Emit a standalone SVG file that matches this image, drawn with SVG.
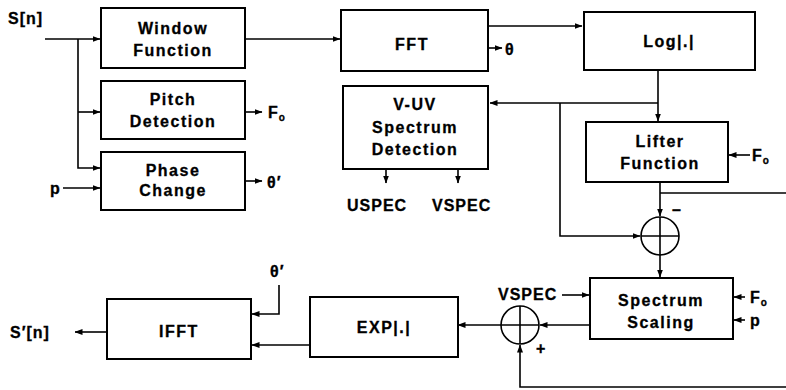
<svg xmlns="http://www.w3.org/2000/svg" width="786" height="390" viewBox="0 0 786 390">
<style>
.b{fill:#fff;stroke:#000;stroke-width:2}
.t{font-family:"Liberation Sans",Arial,sans-serif;font-weight:bold;font-size:16px;letter-spacing:1.5px;fill:#000;text-anchor:middle;stroke:#000;stroke-width:0.3}
.l{font-family:"Liberation Sans",Arial,sans-serif;font-weight:bold;font-size:16px;letter-spacing:1px;fill:#000;stroke:#000;stroke-width:0.3}
.c{fill:none;stroke:#000;stroke-width:1.6}
.s{fill:#fff;stroke:#000;stroke-width:1.6}
</style>
<defs>
<marker id="a" viewBox="0 0 8 8" refX="7.5" refY="4" markerWidth="8" markerHeight="8" markerUnits="userSpaceOnUse" orient="auto">
<path d="M0,1 L8,4 L0,7 Z" fill="#000"/>
</marker>
</defs>
<rect width="786" height="390" fill="#fff"/>
<g id="connectors">
<path class="c" d="M45,39 H100" marker-end="url(#a)"/>
<path class="c" d="M78,39 V168 H100" marker-end="url(#a)"/>
<path class="c" d="M78,112 H100" marker-end="url(#a)"/>
<path class="c" d="M63,188 H100" marker-end="url(#a)"/>
<path class="c" d="M245,39 H340" marker-end="url(#a)"/>
<path class="c" d="M245,112 H262" marker-end="url(#a)"/>
<path class="c" d="M245,181 H262" marker-end="url(#a)"/>
<path class="c" d="M488,26 H582" marker-end="url(#a)"/>
<path class="c" d="M488,48 H502" marker-end="url(#a)"/>
<path class="c" d="M386,169 V183" marker-end="url(#a)"/>
<path class="c" d="M458,169 V183" marker-end="url(#a)"/>
<path class="c" d="M658,70 V121" marker-end="url(#a)"/>
<path class="c" d="M658,103 H490" marker-end="url(#a)"/>
<path class="c" d="M560,103 V236 H640" marker-end="url(#a)"/>
<path class="c" d="M750,155 H729" marker-end="url(#a)"/>
<path class="c" d="M660,182 V216" marker-end="url(#a)"/>
<path class="c" d="M660,193 H786"/>
<path class="c" d="M660,255 V277" marker-end="url(#a)"/>
<path class="c" d="M745,297 H734" marker-end="url(#a)"/>
<path class="c" d="M745,320 H734" marker-end="url(#a)"/>
<path class="c" d="M562,295 H589" marker-end="url(#a)"/>
<path class="c" d="M590,325 H540" marker-end="url(#a)"/>
<path class="c" d="M501,325 H458" marker-end="url(#a)"/>
<path class="c" d="M786,387 H520 V345" marker-end="url(#a)"/>
<path class="c" d="M310,345 H252" marker-end="url(#a)"/>
<path class="c" d="M279,285 V314 H252" marker-end="url(#a)"/>
<path class="c" d="M107,332 H75" marker-end="url(#a)"/>
</g>
<g id="window">
<rect class="b" x="101" y="8" width="144" height="60"/>
<text class="t" x="173" y="34">Window</text>
<text class="t" x="173" y="56">Function</text>
</g>
<g id="pitch">
<rect class="b" x="101" y="81" width="144" height="58"/>
<text class="t" x="173" y="105">Pitch</text>
<text class="t" x="173" y="127">Detection</text>
</g>
<g id="phase">
<rect class="b" x="101" y="152" width="144" height="58"/>
<text class="t" x="173" y="176">Phase</text>
<text class="t" x="173" y="196">Change</text>
</g>
<g id="fft">
<rect class="b" x="341" y="10" width="147" height="61"/>
<text class="t" x="412" y="50">FFT</text>
</g>
<g id="vuv">
<rect class="b" x="343" y="86" width="145" height="83"/>
<text class="t" x="415" y="110">V-UV</text>
<text class="t" x="415" y="133">Spectrum</text>
<text class="t" x="415" y="155">Detection</text>
</g>
<g id="log">
<rect class="b" x="584" y="12" width="171" height="58"/>
<text class="t" x="669" y="47">Log|.|</text>
</g>
<g id="lifter">
<rect class="b" x="586" y="122" width="142" height="60"/>
<text class="t" x="660" y="147">Lifter</text>
<text class="t" x="660" y="169">Function</text>
</g>
<g id="sum1">
<circle class="s" cx="660" cy="236" r="19"/>
<path class="c" d="M641,236 H679 M660,217 V255"/>
</g>
<g id="scaling">
<rect class="b" x="590" y="278" width="143" height="61"/>
<text class="t" x="661" y="306">Spectrum</text>
<text class="t" x="661" y="328">Scaling</text>
</g>
<g id="sum2">
<circle class="s" cx="520" cy="325" r="19"/>
<path class="c" d="M501,325 H539 M520,306 V344"/>
</g>
<g id="exp">
<rect class="b" x="310" y="297" width="148" height="60"/>
<text class="t" x="384" y="333">EXP|.|</text>
</g>
<g id="ifft">
<rect class="b" x="107" y="299" width="144" height="60"/>
<text class="t" x="179" y="337">IFFT</text>
</g>
<g id="labels">
<text class="l" x="8" y="24">S[n]</text>
<text class="l" x="50" y="194">p</text>
<text class="l" x="268" y="118">F<tspan font-size="10" dy="3">o</tspan></text>
<text class="l" x="267" y="188">θ′</text>
<text class="l" x="505" y="55">θ</text>
<text class="l" x="347" y="211">USPEC</text>
<text class="l" x="432" y="211">VSPEC</text>
<text class="l" x="752" y="161">F<tspan font-size="10" dy="3">o</tspan></text>
<text class="l" x="672" y="215">–</text>
<text class="l" x="498" y="300">VSPEC</text>
<text class="l" x="750" y="303">F<tspan font-size="10" dy="3">o</tspan></text>
<text class="l" x="750" y="326">p</text>
<text class="l" x="536" y="354">+</text>
<text class="l" x="270" y="277">θ′</text>
<text class="l" x="10" y="338">S′[n]</text>
</g>
</svg>
